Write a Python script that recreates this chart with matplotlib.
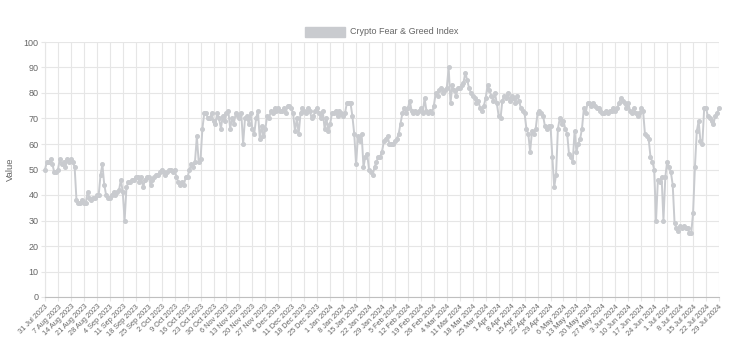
import matplotlib
matplotlib.use("Agg")
import matplotlib.pyplot as plt
import pandas as pd
from matplotlib.patches import Rectangle

# daily Crypto Fear & Greed values, 31 Jul 2023 .. 29 Jul 2024
jul_2023 = [50]
aug_2023 = [53, 53, 54, 52, 49, 49, 50, 54, 52, 53, 51, 54, 53, 54, 53, 51,
            38, 37, 37, 38, 37, 37, 41, 39, 38, 39, 39, 40, 40, 48, 52]
sep_2023 = [44, 40, 39, 39, 40, 41, 40, 41, 42, 46, 41, 30, 43, 45, 45, 46,
            46, 47, 47, 45, 47, 43, 46, 47, 47, 44, 46, 47, 48, 48]
oct_2023 = [49, 50, 49, 48, 49, 50, 50, 49, 50, 47, 45, 44, 45, 44, 47, 47,
            50, 52, 51, 53, 63, 53, 54, 66, 72, 72, 70, 70, 72, 69, 68]
nov_2023 = [72, 70, 66, 71, 69, 72, 73, 66, 70, 68, 72, 71, 70, 72, 60, 70,
            71, 68, 72, 66, 64, 70, 73, 62, 67, 63, 66, 71, 70, 73]
dec_2023 = [72, 74, 73, 74, 73, 73, 74, 72, 75, 75, 74, 72, 65, 70, 64, 72,
            74, 73, 72, 74, 73, 70, 71, 73, 74, 72, 70, 73, 66, 70, 65]
jan_2024 = [68, 72, 72, 73, 71, 73, 72, 71, 72, 76, 76, 76, 71, 64, 52, 63,
            61, 64, 51, 55, 56, 50, 49, 48, 51, 53, 55, 55, 57, 61, 62]
feb_2024 = [63, 60, 60, 60, 61, 62, 64, 68, 72, 74, 72, 74, 77, 73, 72, 73,
            72, 73, 74, 72, 78, 73, 72, 73, 72, 75, 80, 79, 81]
mar_2024 = [82, 80, 81, 82, 90, 76, 83, 81, 79, 82, 82, 83, 84, 88, 85, 82,
            80, 79, 78, 76, 77, 74, 73, 75, 78, 83, 81, 79, 77, 80, 76]
apr_2024 = [71, 70, 77, 79, 78, 80, 77, 79, 78, 76, 79, 77, 74, 73, 72, 66,
            64, 57, 65, 64, 66, 72, 73, 72, 71, 67, 66, 67, 67, 55]
may_2024 = [43, 48, 66, 70, 68, 69, 66, 64, 56, 55, 53, 65, 57, 60, 62, 66,
            74, 72, 76, 76, 75, 76, 75, 74, 74, 73, 72, 72, 73, 72, 73]
jun_2024 = [73, 74, 73, 74, 76, 78, 77, 76, 74, 76, 73, 72, 74, 72, 71, 72,
            74, 73, 64, 63, 62, 55, 53, 50, 30, 46, 45, 47, 30, 47]
jul_2024 = [53, 51, 49, 44, 29, 27, 26, 28, 27, 28, 27, 27, 25, 25, 33, 51,
            65, 69, 61, 60, 74, 74, 71, 70, 69, 68, 71, 72, 74]

values = (jul_2023 + aug_2023 + sep_2023 + oct_2023 + nov_2023 + dec_2023 +
          jan_2024 + feb_2024 + mar_2024 + apr_2024 + may_2024 + jun_2024 + jul_2024)
dates = pd.date_range("2023-07-31", periods=len(values), freq="D")
x = list(range(len(values)))
tick_pos = x[::7]
tick_labels = [f"{d.day} {d.strftime('%b %Y')}" for d in dates[::7]]

plt.rcParams['font.family'] = ['Liberation Sans', 'DejaVu Sans']
line_col = '#c9cbcf'
text_col = '#666666'
grid_col = '#e6e6e6'

fig = plt.figure(figsize=(7.4, 3.63), dpi=100)
ax = fig.add_axes([45 / 740, 1 - 297 / 363, 674 / 740, 255 / 363])

ax.plot(x, values, color=line_col, lw=1.4, marker='o', ms=2.6,
        markerfacecolor=line_col, markeredgecolor=line_col, clip_on=False, zorder=3)

ax.set_xlim(0, len(values) - 1)
ax.set_ylim(0, 100)
ax.set_yticks(range(0, 101, 10))
ax.set_xticks(tick_pos)
ax.set_xticklabels(tick_labels, rotation=45, ha='right', va='top',
                   rotation_mode='anchor', fontsize=5.3, color=text_col)
ax.tick_params(axis='y', labelsize=6.5, labelcolor=text_col)
ax.tick_params(axis='both', length=3, color=grid_col, width=0.8, pad=1.5)
ax.grid(True, color=grid_col, lw=0.8)
ax.set_axisbelow(True)
for s in ['top', 'right']:
    ax.spines[s].set_visible(False)
ax.spines['left'].set_color(grid_col)
ax.spines['bottom'].set_color('#bfbfbf')
ax.set_ylabel('Value', fontsize=6.8, color=text_col, labelpad=6)

# legend like box + text at the top
fig.add_artist(Rectangle((305 / 740, 1 - 37 / 363), 40 / 740, 10 / 363,
                         transform=fig.transFigure, facecolor=line_col,
                         edgecolor=line_col, lw=1))
fig.text(350 / 740, 1 - 32 / 363, 'Crypto Fear & Greed Index', fontsize=6.5,
         color=text_col, va='center', ha='left')

fig.savefig('out.png', dpi=100)
